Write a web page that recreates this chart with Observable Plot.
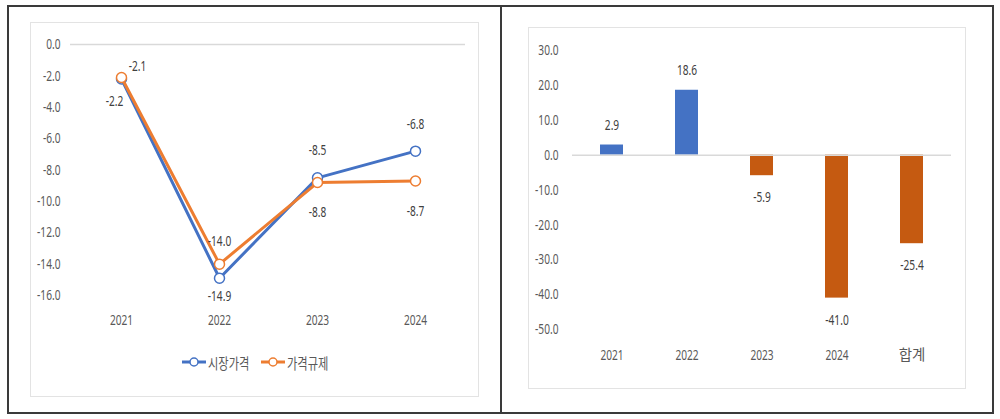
<!DOCTYPE html>
<html><head><meta charset="utf-8">
<script src="https://cdn.jsdelivr.net/npm/d3@7"></script>
<script src="https://cdn.jsdelivr.net/npm/@observablehq/plot@0.6"></script>
<style>
body{margin:0;background:#fff;}
#wrap{position:relative;width:1000px;height:419px;overflow:hidden;font-family:"Noto Sans","Noto Sans CJK KR",sans-serif;color:#595959;background:#fff;}
.frame{position:absolute;border:1px solid #e3e3e3;box-sizing:border-box;}
.line{position:absolute;background:#3a3a3a;}
.leg{position:absolute;top:352px;height:20px;display:flex;align-items:center;font-size:15px;font-family:"Noto Sans CJK KR",sans-serif;color:#595959;}
.leg span{display:inline-block;transform:scaleX(0.75);transform-origin:left center;}
</style></head><body><div id="wrap"></div>
<script>
// ---- data: left line chart ----
const years = ["2021", "2022", "2023", "2024"];
const seriesNames = ["시장가격", "가격규제"];
const marketPrice = [-2.2, -14.9, -8.5, -6.8];
const priceControl = [-2.1, -14.0, -8.8, -8.7];
const marketLabelPos = ["below-left", "below", "above", "above"];
const controlLabelPos = ["above-right", "above", "below", "below"];
const lineTicks = [0, -2, -4, -6, -8, -10, -12, -14, -16];

// ---- data: right bar chart ----
const barCategories = ["2021", "2022", "2023", "2024", "합계"];
const barValues = [2.9, 18.6, -5.9, -41.0, -25.4];
const barTicks = [30, 20, 10, 0, -10, -20, -30, -40, -50];

const BLUE = "#4472C4", ORANGE = "#ED7D31", DARKORANGE = "#C55A11";
const FONT = '"Noto Sans","Noto Sans CJK KR",sans-serif';
const FS = 14.5;
const wrap = document.getElementById("wrap");

function add(el, css) { Object.assign(el.style, css); wrap.appendChild(el); return el; }
function div(cls, css) { const d = document.createElement("div"); d.className = cls; return add(d, css); }

// narrow the Latin/digit text glyphs horizontally (keeps anchor positions)
function condense(svg, k) {
  svg.querySelectorAll("text").forEach(t => {
    if (/[^\x00-\x7F]/.test(t.textContent)) return;
    const w = t.getComputedTextLength();
    if (w > 0) {
      t.setAttribute("textLength", (w * k).toFixed(2));
      t.setAttribute("lengthAdjust", "spacingAndGlyphs");
    }
  });
}

// frames
div("frame", {left: "30px", top: "22px", width: "449px", height: "375px"});
div("frame", {left: "528px", top: "27px", width: "438px", height: "362px"});

// ---- left chart ----
const lineData = [];
years.forEach((y, i) => {
  lineData.push({year: y, series: seriesNames[0], value: marketPrice[i], pos: marketLabelPos[i]});
});
years.forEach((y, i) => {
  lineData.push({year: y, series: seriesNames[1], value: priceControl[i], pos: controlLabelPos[i]});
});
const colorOf = {[seriesNames[0]]: BLUE, [seriesNames[1]]: ORANGE};
const offsets = {
  [seriesNames[0]]: {"below-left": [-7, 22], "below": [0, 18], "above": [0, -27]},
  [seriesNames[1]]: {"above-right": [16, -11], "above": [0, -23], "below": [0, 30]}
};
const seriesMarks = [];
for (const s of seriesNames) {
  const d = lineData.filter(r => r.series === s);
  seriesMarks.push(Plot.line(d, {x: "year", y: "value", stroke: colorOf[s], strokeWidth: 3}));
  seriesMarks.push(Plot.dot(d, {x: "year", y: "value", r: 5, fill: "white", stroke: colorOf[s], strokeWidth: 1.5}));
}
const labelMarks = [];
for (const s of seriesNames) {
  for (const [p, [dx, dy]] of Object.entries(offsets[s])) {
    labelMarks.push(Plot.text(lineData.filter(r => r.series === s && r.pos === p), {
      x: "year", y: "value", text: r => r.value.toFixed(1), dx, dy, fontSize: FS, fill: "#404040"
    }));
  }
}
const left = Plot.plot({
  width: 500, height: 340,
  marginLeft: 70, marginRight: 35, marginTop: 44, marginBottom: 45,
  style: {fontFamily: FONT, fontSize: FS + "px", color: "#595959", background: "transparent"},
  x: {type: "point", domain: years, padding: 0.5, label: null},
  y: {domain: [-16, 0], label: null},
  marks: [
    Plot.ruleY([0], {stroke: "#d9d9d9", strokeWidth: 1.5}),
    Plot.axisY({ticks: lineTicks, tickFormat: d => d.toFixed(1), tickSize: 0, tickPadding: 10, fontSize: FS, label: null}),
    Plot.axisX({tickSize: 0, tickPadding: 19, fontSize: FS, label: null}),
    ...seriesMarks,
    ...labelMarks
  ]
});
add(left, {position: "absolute", left: "0px", top: "0px"});
condense(left, 0.7);

// legend
function legendItem(name, color, x) {
  const d = div("leg", {left: x + "px"});
  const svg = d3.create("svg").attr("width", 24).attr("height", 12).style("margin-right", "2px");
  svg.append("line").attr("x1", 0).attr("x2", 24).attr("y1", 6).attr("y2", 6).attr("stroke", color).attr("stroke-width", 3);
  svg.append("circle").attr("cx", 12).attr("cy", 6).attr("r", 4).attr("fill", "white").attr("stroke", color).attr("stroke-width", 1.5);
  d.appendChild(svg.node());
  const t = document.createElement("span"); t.textContent = name; d.appendChild(t);
}
legendItem(seriesNames[0], BLUE, 182);
legendItem(seriesNames[1], ORANGE, 261);

// ---- right chart ----
const barData = barCategories.map((c, i) => ({cat: c, value: barValues[i]}));
const right = Plot.plot({
  width: 500, height: 380,
  marginLeft: 72, marginRight: 49, marginTop: 50, marginBottom: 51,
  style: {fontFamily: FONT, fontSize: FS + "px", color: "#595959", background: "transparent"},
  x: {type: "band", domain: barCategories, paddingInner: 0.69, paddingOuter: 0.345, label: null},
  y: {domain: [-50, 30], label: null},
  marks: [
    Plot.barY(barData, {x: "cat", y: "value", fill: d => d.value >= 0 ? BLUE : DARKORANGE}),
    Plot.ruleY([0], {stroke: "#d9d9d9", strokeWidth: 1.5}),
    Plot.axisY({ticks: barTicks, tickFormat: d => d.toFixed(1), tickSize: 0, tickPadding: 14, fontSize: FS, label: null}),
    Plot.axisX({tickSize: 0, tickPadding: 20, fontSize: FS, label: null}),
    Plot.text(barData.filter(d => d.value >= 0), {x: "cat", y: "value", text: d => d.value.toFixed(1), dy: -20, fontSize: FS, fill: "#404040"}),
    Plot.text(barData.filter(d => d.value < 0), {x: "cat", y: "value", text: d => d.value.toFixed(1), dy: 22, fontSize: FS, fill: "#404040"})
  ]
});
add(right, {position: "absolute", left: "500px", top: "0px"});
condense(right, 0.7);

// outer border lines
div("line", {left: "7px", top: "5px", width: "987px", height: "2px"});
div("line", {left: "7px", top: "412px", width: "987px", height: "2px"});
div("line", {left: "7px", top: "5px", width: "2px", height: "409px"});
div("line", {left: "992px", top: "5px", width: "2px", height: "409px"});
div("line", {left: "500px", top: "5px", width: "2px", height: "409px"});
</script></body></html>
